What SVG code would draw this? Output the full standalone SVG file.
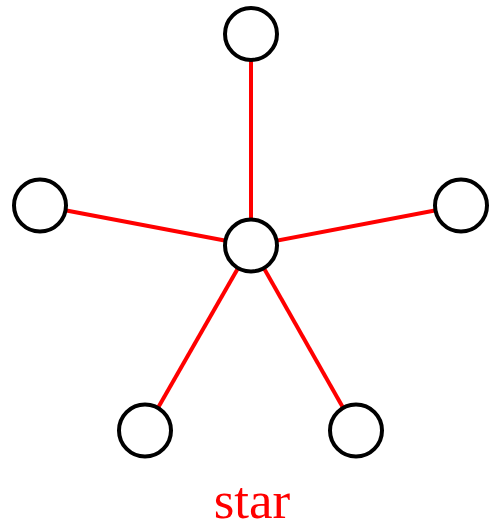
<svg xmlns="http://www.w3.org/2000/svg" width="491" height="531" viewBox="0 0 491 531">
<style>
.node{fill:#fff;stroke:#000;stroke-width:4}
.edge{stroke:#f00;stroke-width:4;fill:none}
.lbl{font-family:"Liberation Serif",serif;font-size:53px;fill:#f00;text-anchor:middle}
</style>
<rect width="491" height="531" fill="#fff"/>
<g id="edges">
<line class="edge" x1="251" y1="245.5" x2="251" y2="34"/>
<line class="edge" x1="251" y1="245.5" x2="40" y2="205.5"/>
<line class="edge" x1="251" y1="245.5" x2="461" y2="205.5"/>
<line class="edge" x1="251" y1="245.5" x2="145" y2="430.5"/>
<line class="edge" x1="251" y1="245.5" x2="356" y2="430.5"/>
</g>
<g id="n-top"><circle class="node" cx="251" cy="34" r="26"/></g>
<g id="n-left"><circle class="node" cx="40" cy="205.5" r="26"/></g>
<g id="n-right"><circle class="node" cx="461" cy="205.5" r="26"/></g>
<g id="n-center"><circle class="node" cx="251" cy="245.5" r="26"/></g>
<g id="n-bl"><circle class="node" cx="145" cy="430.5" r="26"/></g>
<g id="n-br"><circle class="node" cx="356" cy="430.5" r="26"/></g>
<text class="lbl" x="252" y="518">star</text>
</svg>
